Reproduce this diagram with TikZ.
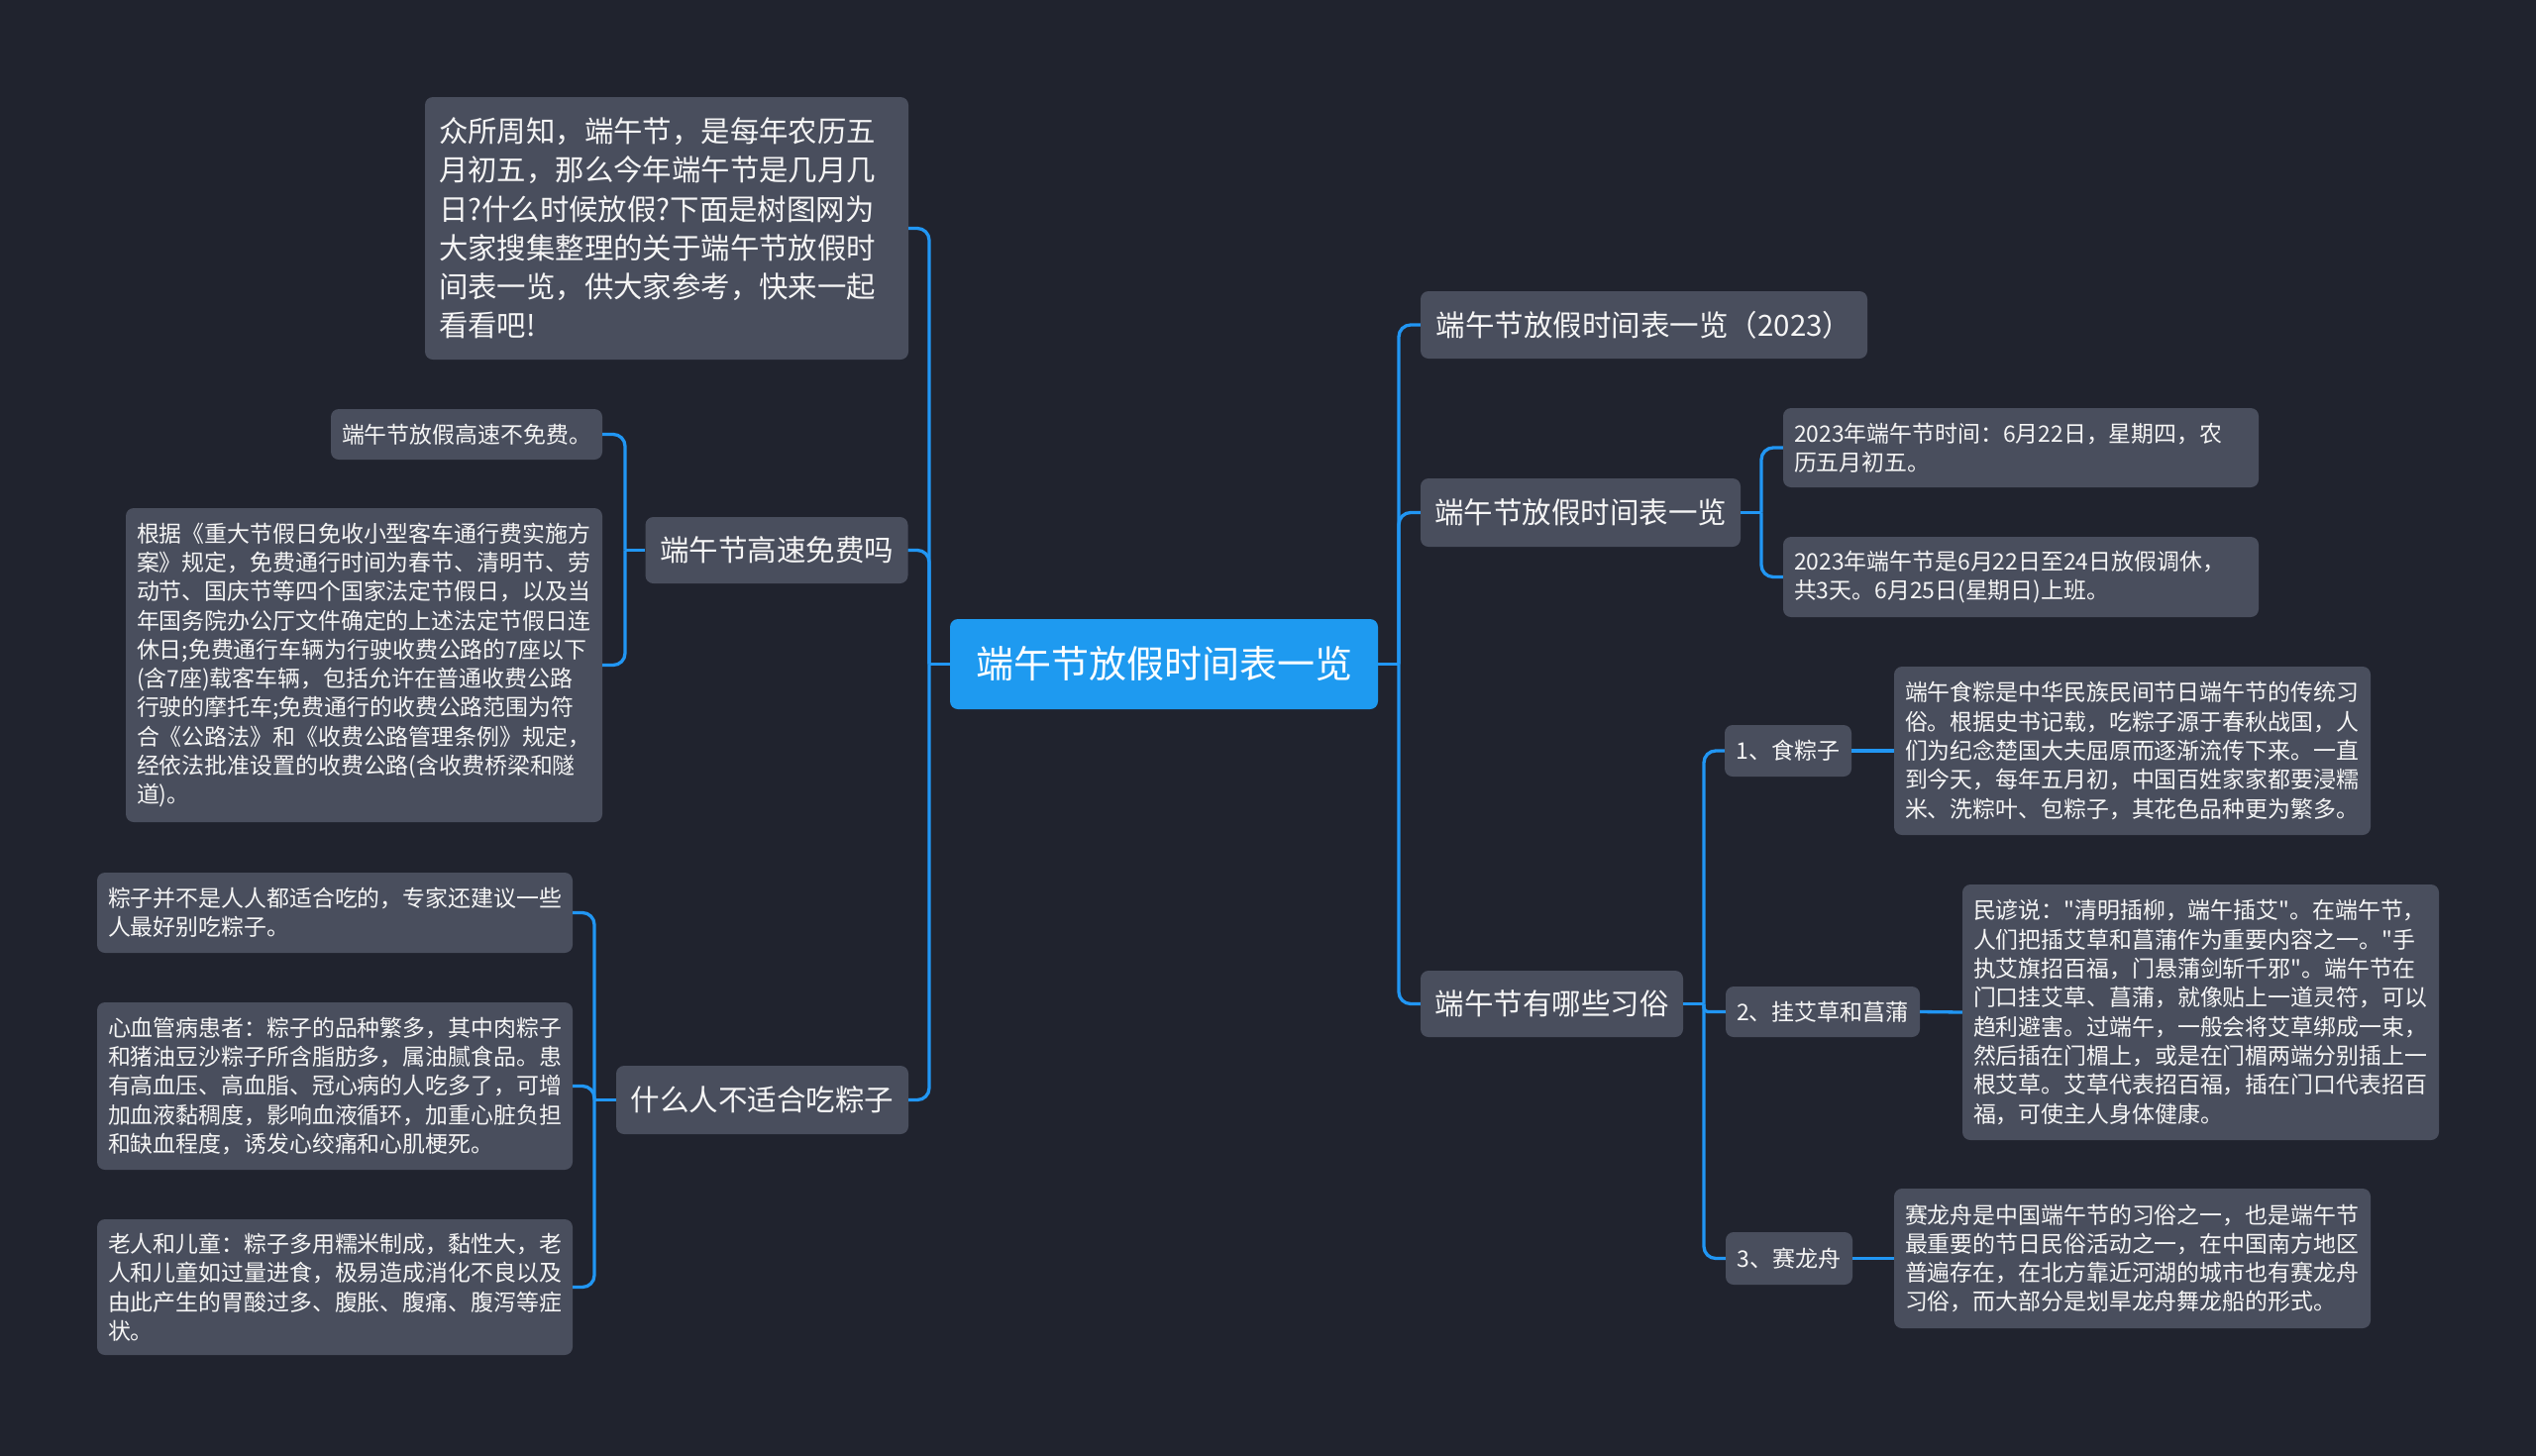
\documentclass[tikz,border=0pt]{standalone}
\usepackage{fontspec}
\setmainfont{Noto Sans CJK SC}
\newfontfamily\cjk{Noto Sans CJK SC}
\definecolor{bgc}{RGB}{32,35,46}
\definecolor{nodec}{RGB}{73,78,93}
\definecolor{linec}{RGB}{33,150,243}
\definecolor{rootc}{RGB}{30,154,240}
\definecolor{txtc}{RGB}{245,245,245}
\begin{document}
\begin{tikzpicture}[x=1pt,y=-1pt,
  box/.style={rounded corners=8pt, fill=nodec, text=txtc, inner sep=0pt, anchor=center},
  rootbox/.style={box, fill=rootc, text=white, font=\cjk\fontsize{38}{46}\selectfont, align=center},
  branch/.style={box, font=\cjk\fontsize{29.5}{36}\selectfont, align=center},
  subbox/.style={box, font=\cjk\fontsize{23}{29}\selectfont, align=center},
  leaf/.style={box, font=\cjk\fontsize{22.9}{29.3}\selectfont, align=left},
  conn/.style={draw=linec, line width=3.3pt, rounded corners=12pt},
]
\useasboundingbox (0,0) rectangle (2560,1470);
\fill[bgc] (0,0) rectangle (2560,1470);

% root
\node[rootbox, minimum width=432pt, minimum height=91pt] (ctr) at (1175,670.5) {端午节放假时间表一览};

% left side
\node[box, font=\cjk\fontsize{29.4}{39.2}\selectfont, align=left, text width=460pt, minimum width=488pt, minimum height=265pt] (intro) at (673,230.5)
 {众所周知，端午节，是每年农历五\\月初五，那么今年端午节是几月几\\日?什么时候放假?下面是树图网为\\大家搜集整理的关于端午节放假时\\间表一览，供大家参考，快来一起\\看看吧!};

\node[branch, minimum width=265pt, minimum height=67pt] (gs) at (784,555.5) {端午节高速免费吗};
\node[subbox, font=\cjk\fontsize{22.9}{29.3}\selectfont, minimum width=274pt, minimum height=51pt] (la) at (471,438.5) {端午节放假高速不免费。};
\node[leaf, text width=459pt, minimum width=481pt, minimum height=317pt] (lb) at (367.5,671.5)
 {根据《重大节假日免收小型客车通行费实施方\\案》规定，免费通行时间为春节、清明节、劳\\动节、国庆节等四个国家法定节假日，以及当\\年国务院办公厅文件确定的上述法定节假日连\\休日;免费通行车辆为行驶收费公路的7座以下\\(含7座)载客车辆，包括允许在普通收费公路\\行驶的摩托车;免费通行的收费公路范围为符\\合《公路法》和《收费公路管理条例》规定，\\经依法批准设置的收费公路(含收费桥梁和隧\\道)。};

\node[branch, minimum width=295pt, minimum height=69pt] (zz) at (769.5,1110.5) {什么人不适合吃粽子};
\node[leaf, text width=458pt, minimum width=480pt, minimum height=81pt] (lc) at (338,921.5)
 {粽子并不是人人都适合吃的，专家还建议一些\\人最好别吃粽子。};
\node[leaf, text width=458pt, minimum width=480pt, minimum height=169pt] (ld) at (338,1096.5)
 {心血管病患者：粽子的品种繁多，其中肉粽子\\和猪油豆沙粽子所含脂肪多，属油腻食品。患\\有高血压、高血脂、冠心病的人吃多了，可增\\加血液黏稠度，影响血液循环，加重心脏负担\\和缺血程度，诱发心绞痛和心肌梗死。};
\node[leaf, text width=458pt, minimum width=480pt, minimum height=137pt] (le) at (338,1299.5)
 {老人和儿童：粽子多用糯米制成，黏性大，老\\人和儿童如过量进食，极易造成消化不良以及\\由此产生的胃酸过多、腹胀、腹痛、腹泻等症\\状。};

% right side
\node[branch, minimum width=451pt, minimum height=68pt] (r1) at (1659.5,328) {端午节放假时间表一览（2023）};
\node[branch, minimum width=323pt, minimum height=69pt] (r2) at (1595.5,517.5) {端午节放假时间表一览};
\node[leaf, text width=458pt, minimum width=480pt, minimum height=80pt] (r2a) at (2040,452)
 {2023年端午节时间：6月22日，星期四，农\\历五月初五。};
\node[leaf, text width=458pt, minimum width=480pt, minimum height=81pt] (r2b) at (2040,582.5)
 {2023年端午节是6月22日至24日放假调休，\\共3天。6月25日(星期日)上班。};

\node[branch, minimum width=265pt, minimum height=67pt] (r3) at (1566.5,1013.5) {端午节有哪些习俗};
\node[subbox, minimum width=128pt, minimum height=52pt] (s1) at (1805,758) {1、食粽子};
\node[leaf, text width=459pt, minimum width=481pt, minimum height=170pt] (s1a) at (2152.5,758)
 {端午食粽是中华民族民间节日端午节的传统习\\俗。根据史书记载，吃粽子源于春秋战国，人\\们为纪念楚国大夫屈原而逐渐流传下来。一直\\到今天，每年五月初，中国百姓家家都要浸糯\\米、洗粽叶、包粽子，其花色品种更为繁多。};
\node[subbox, minimum width=196pt, minimum height=51pt] (s2) at (1840,1021.5) {2、挂艾草和菖蒲};
\node[leaf, text width=459pt, minimum width=481pt, minimum height=258pt] (s2a) at (2221.5,1022)
 {民谚说："清明插柳，端午插艾"。在端午节，\\人们把插艾草和菖蒲作为重要内容之一。"手\\执艾旗招百福，门悬蒲剑斩千邪"。端午节在\\门口挂艾草、菖蒲，就像贴上一道灵符，可以\\趋利避害。过端午，一般会将艾草绑成一束，\\然后插在门楣上，或是在门楣两端分别插上一\\根艾草。艾草代表招百福，插在门口代表招百\\福，可使主人身体健康。};
\node[subbox, minimum width=128pt, minimum height=53pt] (s3) at (1806,1270.5) {3、赛龙舟};
\node[leaf, text width=459pt, minimum width=481pt, minimum height=141pt] (s3a) at (2152.5,1270.5)
 {赛龙舟是中国端午节的习俗之一，也是端午节\\最重要的节日民俗活动之一，在中国南方地区\\普遍存在，在北方靠近河湖的城市也有赛龙舟\\习俗，而大部分是划旱龙舟舞龙船的形式。};

% junctions
\coordinate (jl) at (938,670.5);
\coordinate (jr) at (1412,670.5);
\coordinate (jgs) at (631,555.5);
\coordinate (jzz) at (600,1110.5);
\coordinate (jr2) at (1778,517.5);
\coordinate (jr3) at (1720,1013.5);

% connectors
\draw[conn] (ctr.west) -- (jl);
\draw[conn] (jl) |- (intro.east);
\draw[conn] (jl) |- (gs.east);
\draw[conn] (jl) |- (zz.east);
\draw[conn] (ctr.east) -- (jr);
\draw[conn] (jr) |- (r1.west);
\draw[conn] (jr) |- (r2.west);
\draw[conn] (jr) |- (r3.west);
\draw[conn] (gs.west) -- (jgs);
\draw[conn] (jgs) |- (la.east);
\draw[conn] (jgs) |- (lb.east);
\draw[conn] (zz.west) -- (jzz);
\draw[conn] (jzz) |- (lc.east);
\draw[conn] (jzz) |- (ld.east);
\draw[conn] (jzz) |- (le.east);
\draw[conn] (r2.east) -- (jr2);
\draw[conn] (jr2) |- (r2a.west);
\draw[conn] (jr2) |- (r2b.west);
\draw[conn] (r3.east) -- (jr3);
\draw[conn] (jr3) |- (s1.west);
\draw[conn, rounded corners=4pt] (jr3) |- (s2.west);
\draw[conn] (jr3) |- (s3.west);
\draw[conn] (s1.east) -- (s1a.west);
\draw[conn] (s2.east) -- (s2a.west);
\draw[conn] (s3.east) -- (s3a.west);
\end{tikzpicture}
\end{document}
